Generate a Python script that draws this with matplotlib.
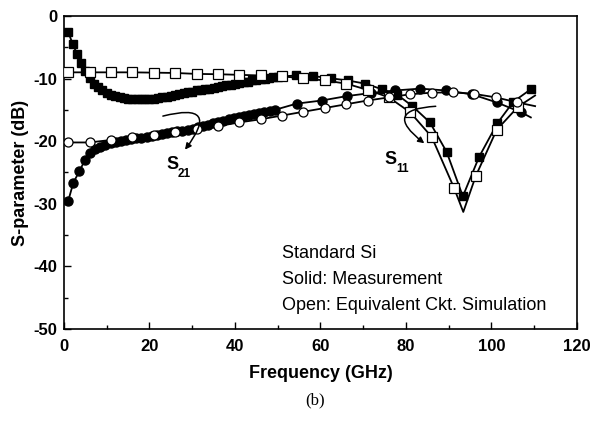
import matplotlib
matplotlib.use("Agg")
import matplotlib.pyplot as plt
from matplotlib.patches import FancyArrowPatch


# S11 measured (filled squares)
S11_MEAS_F = [1, 2, 3, 4, 5, 6, 7, 8, 9, 10, 11, 12, 13, 14, 15, 16, 17, 18, 19, 20,
              21, 22, 23, 24, 25, 26, 27, 28, 29, 30, 31, 32, 33, 34, 35, 36, 37, 38, 39, 40,
              41, 42, 43, 44, 45, 46, 47, 48, 49, 50,
              54.3, 58.3, 62.4, 66.4, 70.4, 74.4, 78.0, 81.5, 85.6, 89.5, 93.3, 97.1,
              101.4, 105.1, 109.2]
S11_MEAS = [-2.6, -4.4, -6.0, -7.5, -8.8, -9.9, -10.8, -11.4, -11.9, -12.3, -12.6, -12.8,
            -13.0, -13.1, -13.2, -13.3, -13.3, -13.3, -13.3, -13.2, -13.2, -13.1, -13.0,
            -12.9, -12.8, -12.6, -12.5, -12.3, -12.2, -12.1, -11.9, -11.8, -11.7, -11.6,
            -11.5, -11.3, -11.2, -11.1, -11.0, -10.9, -10.7, -10.6, -10.5, -10.3, -10.2,
            -10.1, -10.0, -9.9, -9.8, -9.7,
            -9.5, -9.6, -9.95, -10.3, -10.8, -11.7, -12.6, -14.4, -17.0, -21.7, -28.8,
            -22.5, -17.1, -13.7, -11.7]

# S11 simulated (open squares) and its curve
S11_SIM_F = [1, 6, 11, 16, 21, 26, 31, 36, 41, 46, 51, 56, 61, 66, 71, 76, 81, 86,
             91.2, 96.3, 101.2, 106.2]
S11_SIM = [-9.0, -9.0, -9.0, -9.0, -9.05, -9.1, -9.25, -9.3, -9.4, -9.5, -9.65, -9.95,
           -10.3, -10.8, -11.8, -13.0, -15.4, -19.3, -27.4, -25.6, -18.2, -14.5]
S11_SIM_LINE_F = [1, 6, 11, 16, 21, 26, 31, 36, 41, 46, 51, 56, 61, 66, 71, 76, 81, 86,
                  91.2, 93.4, 96.3, 101.2, 106.2, 110.2]
S11_SIM_LINE = [-9.0, -9.0, -9.0, -9.0, -9.05, -9.1, -9.25, -9.3, -9.4, -9.5, -9.65, -9.95,
                -10.3, -10.8, -11.8, -13.0, -15.4, -19.3, -27.4, -31.3, -25.6, -18.2,
                -14.5, -12.7]

# S21 measured (filled circles)
S21_MEAS_F = [1, 2.2, 3.6, 4.9, 6.1, 7.3, 8.5, 9.7, 10.9, 12.1, 13.3, 14.5, 15.7, 16.9,
              18.1, 19.3, 20.5, 21.7, 22.9, 24.1, 25.3, 26.5, 27.7, 28.9, 30.1, 31.3,
              32.5, 33.7, 34.9, 36.1, 37.3, 38.5, 39.7, 40.9, 42.1, 43.3, 44.5, 45.7,
              46.9, 48.1, 49.3,
              54.4, 60.3, 66.1, 71.8, 77.4, 83.3, 89.4, 95.4, 101.2, 107.0]
S21_MEAS = [-29.5, -26.6, -24.8, -23.0, -21.9, -21.3, -20.9, -20.6, -20.35, -20.2, -20.0,
            -19.85, -19.7, -19.55, -19.45, -19.3, -19.15, -19.0, -18.85, -18.7, -18.55,
            -18.45, -18.3, -18.15, -18.0, -17.8, -17.6, -17.35, -17.1, -16.9, -16.7,
            -16.5, -16.35, -16.2, -16.0, -15.85, -15.65, -15.5, -15.3, -15.15, -15.0,
            -14.0, -13.5, -12.8, -12.3, -11.9, -11.6, -11.9, -12.5, -13.8, -15.4]
S21_MEAS_TAIL_F = [107.0, 109.2]
S21_MEAS_TAIL = [-15.4, -16.2]

# S21 simulated (open circles)
S21_SIM_F = [1, 6, 11, 16, 21, 26, 31, 36, 41, 46, 51, 56, 61, 66, 71, 76, 81, 86, 91,
             96, 101, 106]
S21_SIM = [-20.2, -20.2, -19.8, -19.4, -19.0, -18.6, -18.1, -17.6, -17.0, -16.5, -15.9,
           -15.3, -14.7, -14.1, -13.5, -13.0, -12.5, -12.25, -12.2, -12.45, -13.0, -13.8]
S21_SIM_TAIL_F = [106, 110.2]
S21_SIM_TAIL = [-13.8, -14.4]

NOTES = ["Standard Si", "Solid: Measurement", "Open: Equivalent Ckt. Simulation"]


def _style(ax) -> None:
    ax.set_xlim(0, 120)
    ax.set_ylim(-50, 0)
    ax.set_xticks(range(0, 121, 20))
    ax.set_xticks(range(10, 120, 20), minor=True)
    ax.set_yticks(range(-50, 1, 10))
    ax.set_yticks(range(-45, 0, 10), minor=True)
    ax.tick_params(which="both", direction="in", top=False, right=False, width=1.0)
    ax.tick_params(which="major", length=5, labelsize=12)
    ax.tick_params(axis="x", which="major", pad=7)
    ax.tick_params(axis="y", which="major", pad=5)
    ax.tick_params(which="minor", length=3)
    for lab in ax.get_xticklabels() + ax.get_yticklabels():
        lab.set_fontweight("bold")
    for sp in ax.spines.values():
        sp.set_linewidth(1.2)


def main() -> None:
    plt.rcParams.update({"font.family": ["Liberation Sans", "DejaVu Sans"],
                         "axes.unicode_minus": False})
    fig = plt.figure(figsize=(5.9, 4.23), dpi=100)
    ax = fig.add_axes([64 / 590, 1 - 329 / 423, 513 / 590, 313 / 423])

    line_kw = dict(color="black", linewidth=1.3)
    ax.plot(S11_MEAS_F, S11_MEAS, marker="s", markersize=6.3, markerfacecolor="black",
            markeredgecolor="black", **line_kw, zorder=2)
    ax.plot(S21_MEAS_F, S21_MEAS, marker="o", markersize=6.5, markerfacecolor="black",
            markeredgecolor="black", **line_kw, zorder=2)
    ax.plot(S21_MEAS_TAIL_F, S21_MEAS_TAIL, **line_kw, zorder=2)

    ax.plot(S11_SIM_LINE_F, S11_SIM_LINE, **line_kw, zorder=3)
    ax.plot(S11_SIM_F, S11_SIM, linestyle="none", marker="s", markersize=6.5,
            markerfacecolor="white", markeredgecolor="black", markeredgewidth=0.9, zorder=4)
    ax.plot(S21_SIM_F, S21_SIM, marker="o", markersize=6.5, markerfacecolor="white",
            markeredgecolor="black", markeredgewidth=0.9, **line_kw, zorder=4)
    ax.plot(S21_SIM_TAIL_F, S21_SIM_TAIL, **line_kw, zorder=3)

    # curved pointers to the curves
    ax.add_patch(FancyArrowPatch((22.5, -16.1), (27.9, -21.7),
                                 connectionstyle="arc3,rad=-1.5", arrowstyle="-|>",
                                 mutation_scale=9, linewidth=1.1, color="black", zorder=5))
    ax.add_patch(FancyArrowPatch((87.6, -14.4), (84.8, -20.6),
                                 connectionstyle="arc3,rad=1.4", arrowstyle="-|>",
                                 mutation_scale=9, linewidth=1.1, color="black", zorder=5))

    ax.text(25.3, -23.8, "S", fontsize=13, fontweight="bold", ha="center", va="center")
    ax.text(28.1, -25.3, "21", fontsize=8.5, fontweight="bold", ha="center", va="center")
    ax.text(76.3, -23.0, "S", fontsize=13, fontweight="bold", ha="center", va="center")
    ax.text(79.2, -24.5, "11", fontsize=8.5, fontweight="bold", ha="center", va="center")

    for i, note in enumerate(NOTES):
        ax.text(51.0, -37.9 - 4.15 * i, note, fontsize=13, ha="left", va="center")

    _style(ax)
    ax.set_xlabel("Frequency (GHz)", fontsize=13, fontweight="bold", labelpad=8)
    ax.set_ylabel("S-parameter (dB)", fontsize=13, fontweight="bold", labelpad=3)

    fig.text(315 / 590, 1 - 400 / 423, "(b)", fontsize=12, ha="center", va="center",
             family=["Liberation Serif", "DejaVu Serif"])

    fig.savefig("out.png", dpi=100)


if __name__ == "__main__":
    main()
